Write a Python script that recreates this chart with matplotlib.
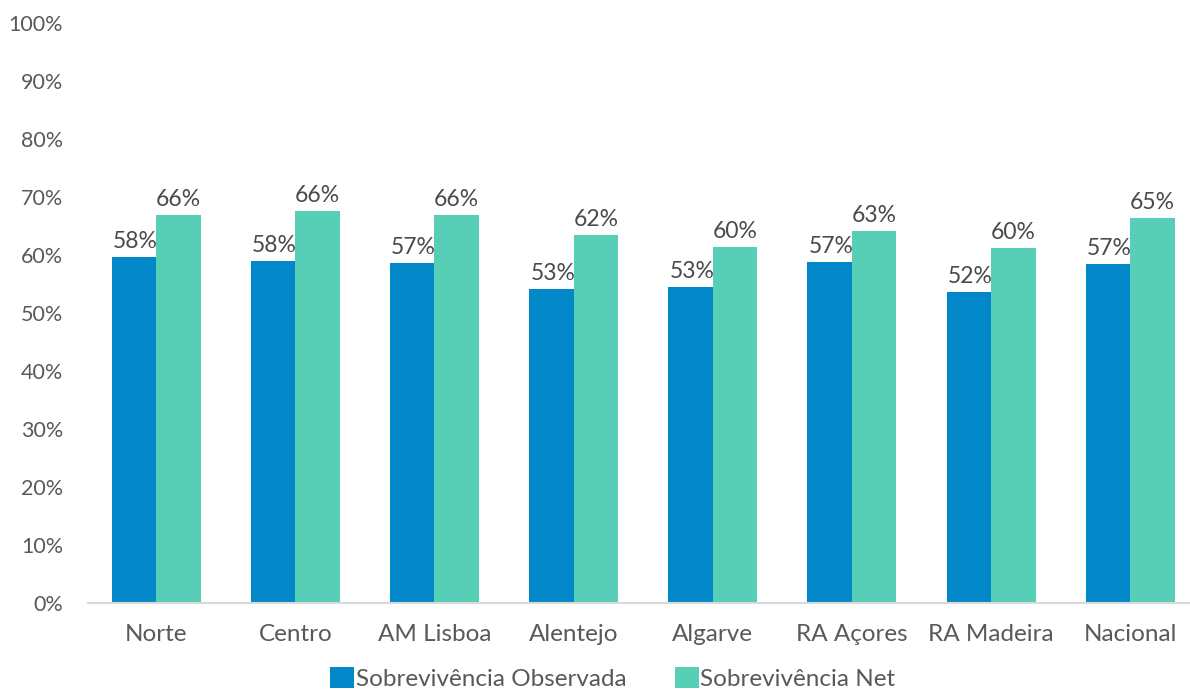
import matplotlib
matplotlib.use('Agg')
import matplotlib.pyplot as plt
import numpy as np

regions = ['Norte', 'Centro', 'AM Lisboa', 'Alentejo', 'Algarve',
           'RA Açores', 'RA Madeira', 'Nacional']
observada = [59.7, 59.0, 58.6, 54.1, 54.5, 58.8, 53.6, 58.4]
net = [66.9, 67.6, 66.9, 63.4, 61.4, 64.1, 61.2, 66.4]
observada_labels = ['58%', '58%', '57%', '53%', '53%', '57%', '52%', '57%']
net_labels = ['66%', '66%', '66%', '62%', '60%', '63%', '60%', '65%']

c_obs = '#0288C9'
c_net = '#57CFB7'
txt = '#595959'

plt.rcParams['font.family'] = ['Lato', 'DejaVu Sans']

fig = plt.figure(figsize=(11.9, 6.95), dpi=100)
ax = fig.add_axes([88/1190, 92/695, 1 - 88/1190, 580/695])

x = np.arange(len(regions))
w = 0.32
b1 = ax.bar(x - w/2, observada, w, color=c_obs, label='Sobrevivência Observada')
b2 = ax.bar(x + w/2, net, w, color=c_net, label='Sobrevivência Net')

for xi, v, lab in zip(x, observada, observada_labels):
    ax.text(xi - w/2 + 0.01, v + 0.9, lab, ha='center', va='bottom',
            fontsize=16.5, color='#4a4a4a')
for xi, v, lab in zip(x, net, net_labels):
    ax.text(xi + w/2, v + 0.9, lab, ha='center', va='bottom',
            fontsize=16.5, color='#4a4a4a')

ax.set_ylim(0, 100)
ax.set_xlim(-0.49, 7.43)
ax.set_yticks(np.arange(0, 101, 10))
ax.set_yticklabels([f'{t}%' for t in range(0, 101, 10)])
ax.set_xticks(x)
ax.set_xticklabels(regions)
ax.tick_params(axis='y', length=0, pad=18, labelsize=15.5, labelcolor=txt)
ax.tick_params(axis='x', length=0, pad=15, labelsize=17.5, labelcolor=txt)
for s in ['top', 'right', 'left']:
    ax.spines[s].set_visible(False)
ax.spines['bottom'].set_color('#D9D9D9')
ax.spines['bottom'].set_linewidth(1.5)

fig.legend(handles=[b1, b2], loc='lower center', bbox_to_anchor=(0.515, -0.024),
           ncol=2, frameon=False, fontsize=17.5, handlelength=1.0, handleheight=1.0,
           handletextpad=0.05, columnspacing=2.0, labelcolor=txt)

fig.savefig('out.png', dpi=100)
